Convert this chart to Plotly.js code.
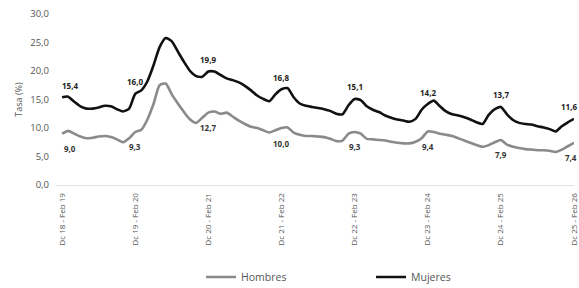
<!DOCTYPE html>
<html>
<head>
<meta charset="utf-8">
<script src="https://cdn.plot.ly/plotly-3.0.1.min.js"></script>
<style>
html,body{margin:0;padding:0;background:#fff;overflow:hidden;}
#chart{width:579px;height:288px;}
</style>
</head>
<body>
<div id="chart"></div>
<script>
// Periods (rolling quarters), tick labels every Dec-Feb
var tickIdx = [0, 12, 24, 36, 48, 60, 72, 84];
var tickLabels = ["Dc 18 - Feb 19", "Dc 19 - Feb 20", "Dc 20 - Feb 21", "Dc 21 - Feb 22",
                  "Dc 22 - Feb 23", "Dc 23 - Feb 24", "Dc 24 - Feb 25", "Dc 25 - Feb 26"];

var mujeres = [
  15.4, 15.5, 14.6, 13.8, 13.4, 13.4, 13.6, 13.9, 13.8, 13.3, 12.9, 13.4,
  16.0, 16.6, 18.2, 21.0, 24.2, 25.8, 25.2, 23.4, 21.6, 20.0, 19.1, 19.0,
  19.9, 19.9, 19.3, 18.7, 18.4, 18.0, 17.4, 16.6, 15.7, 15.1, 14.7, 15.9,
  16.8, 17.0, 15.4, 14.3, 13.9, 13.7, 13.5, 13.3, 13.0, 12.5, 12.4, 14.0,
  15.1, 14.9, 13.8, 13.2, 12.8, 12.2, 11.8, 11.5, 11.3, 11.1, 11.6, 13.2,
  14.2, 14.8, 13.8, 12.9, 12.4, 12.2, 11.9, 11.5, 11.0, 10.7, 12.3, 13.3,
  13.7, 12.4, 11.4, 10.9, 10.7, 10.6, 10.3, 10.1, 9.8, 9.4, 10.3, 11.0,
  11.6
];
var hombres = [
  9.0, 9.5, 9.0, 8.5, 8.2, 8.3, 8.5, 8.6, 8.4, 8.0, 7.5, 8.2,
  9.3, 9.7, 11.5, 14.2, 17.5, 17.8, 15.9, 14.3, 12.8, 11.5, 10.9, 11.8,
  12.7, 12.9, 12.5, 12.7, 12.0, 11.3, 10.7, 10.2, 10.0, 9.6, 9.2, 9.6,
  10.0, 10.1, 9.2, 8.8, 8.6, 8.6, 8.5, 8.4, 8.1, 7.7, 7.8, 9.0,
  9.3, 9.0, 8.1, 8.0, 7.9, 7.8, 7.6, 7.4, 7.3, 7.3, 7.6, 8.2,
  9.4, 9.3, 9.0, 8.8, 8.6, 8.2, 7.8, 7.4, 7.0, 6.7, 7.0, 7.5,
  7.9, 7.1, 6.7, 6.5, 6.3, 6.2, 6.1, 6.1, 6.0, 5.8, 6.2, 6.8,
  7.4
];
var yTicks = [0, 5, 10, 15, 20, 25, 30];

var xs = mujeres.map(function(_, i){ return i; });
function fmt(v){ return v.toFixed(1).replace('.', ','); }

var annotations = [];
tickIdx.forEach(function(i, k){
  var last = (k === tickIdx.length - 1);
  var xsft = (k === 0) ? 8 : (last ? 5 : 0);
  var xanc = last ? 'right' : 'center';
  annotations.push({
    x: i, y: mujeres[i], xref: 'x', yref: 'y', text: fmt(mujeres[i]),
    showarrow: false, yshift: 12, xshift: xsft, xanchor: xanc, yanchor: 'middle',
    font: {family: 'Open Sans, sans-serif', size: 8, color: '#222', weight: 'bold'}
  });
  annotations.push({
    x: i, y: hombres[i], xref: 'x', yref: 'y', text: fmt(hombres[i]),
    showarrow: false, yshift: -15, xshift: xsft, xanchor: xanc, yanchor: 'middle',
    font: {family: 'Open Sans, sans-serif', size: 8, color: '#333', weight: 'bold'}
  });
});

var traces = [
  {
    x: xs, y: hombres, name: 'Hombres', type: 'scatter', mode: 'lines',
    line: {color: '#8a8a8a', width: 2.6, shape: 'spline', smoothing: 0.6},
    hoverinfo: 'skip'
  },
  {
    x: xs, y: mujeres, name: 'Mujeres', type: 'scatter', mode: 'lines',
    line: {color: '#111111', width: 2.6, shape: 'spline', smoothing: 0.6},
    hoverinfo: 'skip'
  }
];

var layout = {
  width: 579, height: 288,
  margin: {l: 56, r: 5, t: 14, b: 103, autoexpand: false},
  paper_bgcolor: '#fff', plot_bgcolor: '#fff',
  separators: ',.',
  showlegend: true,
  font: {family: 'Open Sans, sans-serif', color: '#555'},
  annotations: annotations,
  xaxis: {
    range: [-1, 84],
    tickmode: 'array', tickvals: tickIdx, ticktext: tickLabels,
    tickangle: -90, tickfont: {size: 8, color: '#555'},
    ticklabelstandoff: 4, ticklabeloverflow: 'allow',
    showgrid: false, zeroline: false,
    showline: true, linecolor: '#e2e2e2', linewidth: 1,
    ticks: ''
  },
  yaxis: {
    range: [0, 30],
    tickmode: 'array', tickvals: yTicks,
    tickformat: '.1f',
    tickfont: {size: 9.5, color: '#555'},
    showgrid: false, zeroline: false, showline: false,
    ticklabelstandoff: 6,
    title: {text: 'Tasa (%)', font: {size: 9, color: '#555'}, standoff: 6}
  },
  legend: {
    orientation: 'h', x: 0.28, xanchor: 'left', y: -0.538, yanchor: 'middle',
    font: {size: 10.5, color: '#555'}, entrywidth: 125, entrywidthmode: 'pixels',
    bgcolor: 'rgba(0,0,0,0)'
  }
};

Plotly.newPlot('chart', traces, layout, {staticPlot: true, displayModeBar: false});
</script>
</body>
</html>
